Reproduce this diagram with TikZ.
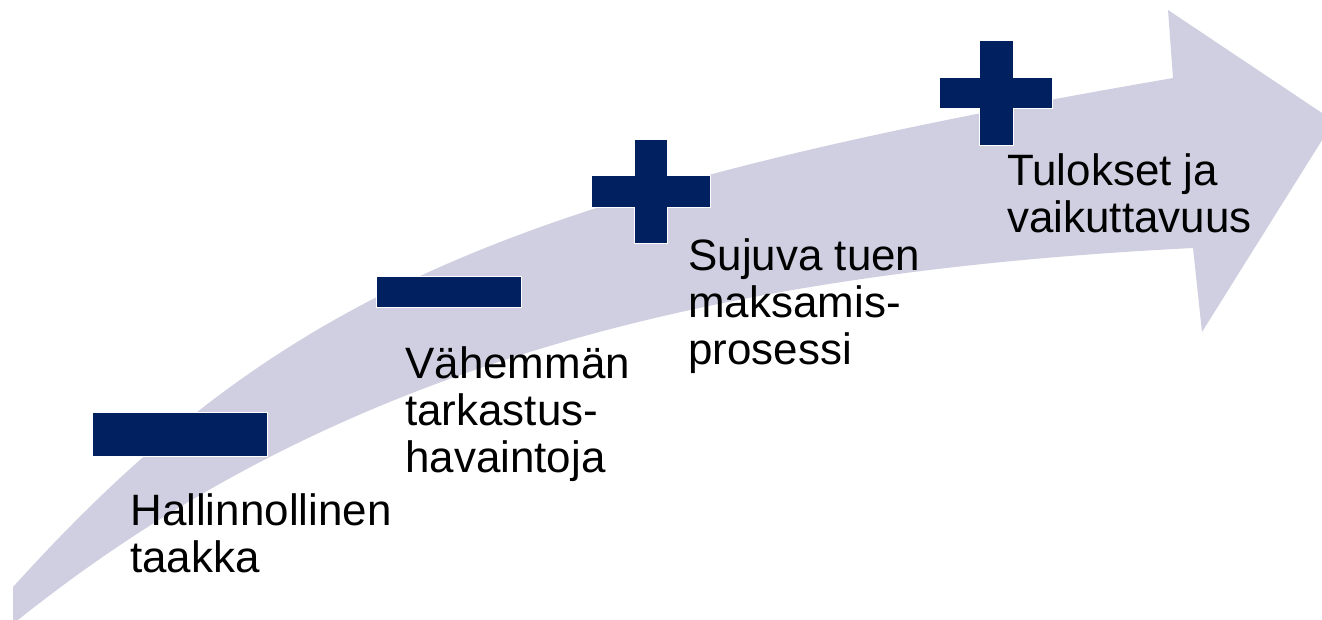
\documentclass[tikz,border=0pt]{standalone}
\usepackage{fontspec}
\setmainfont{Liberation Sans}

\definecolor{band}{RGB}{208,207,225}
\definecolor{navy}{RGB}{0,32,96}
\tikzset{
	stage/.style={anchor=base west, align=left, inner sep=0pt, font=\fontsize{25}{26.6}\selectfont},
	sign/.style={fill=navy, draw=white, line width=0.4pt},
}

\begin{document}
\begin{tikzpicture}[x=0.02cm, y=-0.02cm]
	\useasboundingbox (0,0) rectangle (1322,619);
	\clip (0,0) rectangle (1322,619);
	% the rising arrow
	\fill [band] (13,587) .. controls (279,293) and (511,192) .. (1173,78) -- (1168,10) -- (1334,121) -- (1202,332) -- (1193,248) .. controls (699,273) and (328,370) .. (13,624) -- cycle;
	% minus and plus signs
	\draw [sign] (92,412) rectangle (267,456);
	\draw [sign] (376,276) rectangle (521,307);
	\draw [sign] (634,139) -- (667,139) -- (667,175) -- (710,175) -- (710,207) -- (667,207) -- (667,243) -- (634,243) -- (634,207) -- (591,207) -- (591,175) -- (634,175) -- cycle;
	\draw [sign] (979,40) -- (1013,40) -- (1013,77) -- (1052,77) -- (1052,108) -- (1013,108) -- (1013,145) -- (979,145) -- (979,108) -- (939,108) -- (939,77) -- (979,77) -- cycle;
	% labels (anchored at the baseline of the last line)
	\node [stage] (hallinto) at (130,572) {Hallinnollinen\\taakka};
	\node [stage] (tarkastus) at (405,472) {Vähemmän\\tarkastus-\\havaintoja};
	\node [stage] (maksu) at (688,364) {Sujuva tuen\\maksamis-\\prosessi};
	\node [stage] (tulokset) at (1007,232) {Tulokset ja\\vaikuttavuus};
\end{tikzpicture}
\end{document}
